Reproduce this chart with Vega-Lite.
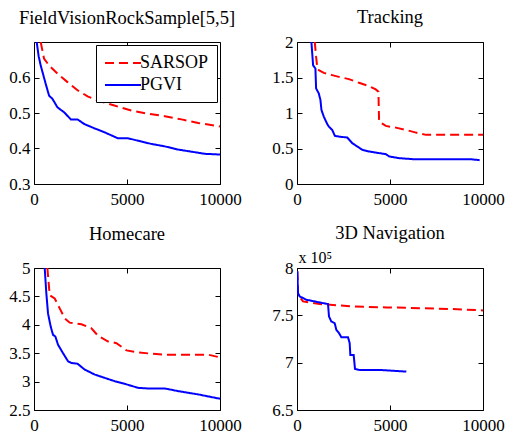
{
  "$schema": "https://vega.github.io/schema/vega-lite/v6.json",
  "padding": {"left": 8, "top": 7, "right": 5, "bottom": 3},
  "columns": 2,
  "spacing": {"row": 84, "column": 77},
  "bounds": "flush",
  "resolve": {"scale": {"color": "independent", "strokeDash": "independent"}},
  "concat": [
    {
      "title": {"text": "FieldVisionRockSample[5,5]", "offset": 12},
      "width": 186, "height": 142,
      "data": {"values": [
        {"m":"SARSOP","x":360,"y":0.70},{"m":"SARSOP","x":540,"y":0.653},{"m":"SARSOP","x":810,"y":0.634},{"m":"SARSOP","x":1260,"y":0.611},{"m":"SARSOP","x":1800,"y":0.587},{"m":"SARSOP","x":2340,"y":0.564},{"m":"SARSOP","x":2880,"y":0.547},{"m":"SARSOP","x":3420,"y":0.535},{"m":"SARSOP","x":4320,"y":0.521},{"m":"SARSOP","x":5225,"y":0.507},{"m":"SARSOP","x":6126,"y":0.498},{"m":"SARSOP","x":7030,"y":0.491},{"m":"SARSOP","x":7930,"y":0.482},{"m":"SARSOP","x":8830,"y":0.472},{"m":"SARSOP","x":10000,"y":0.462},
        {"m":"PGVI","x":144,"y":0.70},{"m":"PGVI","x":250,"y":0.66},{"m":"PGVI","x":360,"y":0.634},{"m":"PGVI","x":630,"y":0.582},{"m":"PGVI","x":810,"y":0.549},{"m":"PGVI","x":990,"y":0.540},{"m":"PGVI","x":1260,"y":0.516},{"m":"PGVI","x":1620,"y":0.502},{"m":"PGVI","x":1980,"y":0.482},{"m":"PGVI","x":2340,"y":0.482},{"m":"PGVI","x":2700,"y":0.469},{"m":"PGVI","x":3240,"y":0.457},{"m":"PGVI","x":3780,"y":0.446},{"m":"PGVI","x":4500,"y":0.429},{"m":"PGVI","x":5045,"y":0.429},{"m":"PGVI","x":5585,"y":0.422},{"m":"PGVI","x":6300,"y":0.413},{"m":"PGVI","x":7030,"y":0.406},{"m":"PGVI","x":7750,"y":0.397},{"m":"PGVI","x":8470,"y":0.391},{"m":"PGVI","x":9190,"y":0.385},{"m":"PGVI","x":10000,"y":0.383}
      ]},
      "layer": [
        {"mark": {"type": "line", "strokeWidth": 2, "clip": true},
         "encoding": {
           "x": {"field": "x", "type": "quantitative", "scale": {"domain": [0, 10000]}, "axis": {"values": [0, 5000, 10000], "format": "d"}},
           "y": {"field": "y", "type": "quantitative", "scale": {"domain": [0.3, 0.7]}, "axis": {"values": [0.3, 0.4, 0.5, 0.6], "format": "~g"}},
           "color": {"field": "m", "type": "nominal", "scale": {"domain": ["SARSOP", "PGVI"], "range": ["#ff0000", "#0000ff"]}, "legend": {"title": null}},
           "strokeDash": {"field": "m", "type": "nominal", "scale": {"domain": ["SARSOP", "PGVI"], "range": [[9, 5], [1, 0]]}, "legend": {"title": null}}
         }},
        {"mark": {"type": "point", "opacity": 0},
         "encoding": {
           "x": {"field": "x", "type": "quantitative", "scale": {"domain": [0, 10000]}, "axis": {"orient": "top", "values": [0, 5000, 10000], "labels": false}},
           "y": {"field": "y", "type": "quantitative", "scale": {"domain": [0.3, 0.7]}, "axis": {"orient": "right", "values": [0.3, 0.4, 0.5, 0.6], "labels": false}}
         }}
      ],
      "resolve": {"axis": {"x": "independent", "y": "independent"}}
    },
    {
      "title": {"text": "Tracking", "offset": 7},
      "width": 186, "height": 142,
      "data": {"values": [
        {"m":"SARSOP","x":955,"y":2.0},{"m":"SARSOP","x":1027,"y":1.79},{"m":"SARSOP","x":1100,"y":1.62},{"m":"SARSOP","x":1171,"y":1.603},{"m":"SARSOP","x":1441,"y":1.565},{"m":"SARSOP","x":1892,"y":1.533},{"m":"SARSOP","x":2252,"y":1.509},{"m":"SARSOP","x":2793,"y":1.477},{"m":"SARSOP","x":3333,"y":1.425},{"m":"SARSOP","x":3874,"y":1.379},{"m":"SARSOP","x":4234,"y":1.332},{"m":"SARSOP","x":4378,"y":1.30},{"m":"SARSOP","x":4414,"y":0.879},{"m":"SARSOP","x":4775,"y":0.818},{"m":"SARSOP","x":5315,"y":0.794},{"m":"SARSOP","x":5856,"y":0.762},{"m":"SARSOP","x":6396,"y":0.724},{"m":"SARSOP","x":6937,"y":0.692},{"m":"SARSOP","x":8378,"y":0.692},{"m":"SARSOP","x":10000,"y":0.692},
        {"m":"PGVI","x":775,"y":2.0},{"m":"PGVI","x":865,"y":1.673},{"m":"PGVI","x":990,"y":1.626},{"m":"PGVI","x":1027,"y":1.346},{"m":"PGVI","x":1171,"y":1.276},{"m":"PGVI","x":1261,"y":1.182},{"m":"PGVI","x":1315,"y":1.042},{"m":"PGVI","x":1441,"y":0.949},{"m":"PGVI","x":1622,"y":0.846},{"m":"PGVI","x":1712,"y":0.808},{"m":"PGVI","x":1892,"y":0.762},{"m":"PGVI","x":2036,"y":0.678},{"m":"PGVI","x":2252,"y":0.668},{"m":"PGVI","x":2703,"y":0.654},{"m":"PGVI","x":2973,"y":0.575},{"m":"PGVI","x":3243,"y":0.528},{"m":"PGVI","x":3514,"y":0.481},{"m":"PGVI","x":3874,"y":0.458},{"m":"PGVI","x":4414,"y":0.435},{"m":"PGVI","x":4775,"y":0.421},{"m":"PGVI","x":4955,"y":0.388},{"m":"PGVI","x":5495,"y":0.364},{"m":"PGVI","x":6216,"y":0.350},{"m":"PGVI","x":7477,"y":0.350},{"m":"PGVI","x":9279,"y":0.350},{"m":"PGVI","x":9820,"y":0.336}
      ]},
      "layer": [
        {"mark": {"type": "line", "strokeWidth": 2, "clip": true},
         "encoding": {
           "x": {"field": "x", "type": "quantitative", "scale": {"domain": [0, 10000]}, "axis": {"values": [0, 5000, 10000], "format": "d"}},
           "y": {"field": "y", "type": "quantitative", "scale": {"domain": [0, 2]}, "axis": {"values": [0, 0.5, 1, 1.5, 2], "format": "~g"}},
           "color": {"field": "m", "type": "nominal", "scale": {"domain": ["SARSOP", "PGVI"], "range": ["#ff0000", "#0000ff"]}, "legend": null},
           "strokeDash": {"field": "m", "type": "nominal", "scale": {"domain": ["SARSOP", "PGVI"], "range": [[9, 5], [1, 0]]}, "legend": null}
         }},
        {"mark": {"type": "point", "opacity": 0},
         "encoding": {
           "x": {"field": "x", "type": "quantitative", "scale": {"domain": [0, 10000]}, "axis": {"orient": "top", "values": [0, 5000, 10000], "labels": false}},
           "y": {"field": "y", "type": "quantitative", "scale": {"domain": [0, 2]}, "axis": {"orient": "right", "values": [0, 0.5, 1, 1.5, 2], "labels": false}}
         }}
      ],
      "resolve": {"axis": {"x": "independent", "y": "independent"}}
    },
    {
      "title": {"text": "Homecare", "offset": 16},
      "width": 186, "height": 142,
      "data": {"values": [
        {"m":"SARSOP","x":718,"y":5.0},{"m":"SARSOP","x":844,"y":4.522},{"m":"SARSOP","x":1113,"y":4.464},{"m":"SARSOP","x":1382,"y":4.289},{"m":"SARSOP","x":1652,"y":4.114},{"m":"SARSOP","x":1921,"y":4.038},{"m":"SARSOP","x":2549,"y":4.009},{"m":"SARSOP","x":3088,"y":3.939},{"m":"SARSOP","x":3447,"y":3.805},{"m":"SARSOP","x":3986,"y":3.706},{"m":"SARSOP","x":4435,"y":3.677},{"m":"SARSOP","x":4973,"y":3.549},{"m":"SARSOP","x":5601,"y":3.514},{"m":"SARSOP","x":6320,"y":3.491},{"m":"SARSOP","x":7038,"y":3.473},{"m":"SARSOP","x":7935,"y":3.473},{"m":"SARSOP","x":9372,"y":3.473},{"m":"SARSOP","x":10000,"y":3.427},
        {"m":"PGVI","x":575,"y":5.0},{"m":"PGVI","x":664,"y":4.551},{"m":"PGVI","x":754,"y":4.20},{"m":"PGVI","x":898,"y":3.968},{"m":"PGVI","x":1023,"y":3.823},{"m":"PGVI","x":1149,"y":3.794},{"m":"PGVI","x":1293,"y":3.648},{"m":"PGVI","x":1562,"y":3.50},{"m":"PGVI","x":1831,"y":3.357},{"m":"PGVI","x":2011,"y":3.328},{"m":"PGVI","x":2334,"y":3.316},{"m":"PGVI","x":2729,"y":3.211},{"m":"PGVI","x":3267,"y":3.124},{"m":"PGVI","x":3806,"y":3.065},{"m":"PGVI","x":4345,"y":3.007},{"m":"PGVI","x":4883,"y":2.96},{"m":"PGVI","x":5601,"y":2.89},{"m":"PGVI","x":6140,"y":2.879},{"m":"PGVI","x":7038,"y":2.879},{"m":"PGVI","x":7756,"y":2.832},{"m":"PGVI","x":8833,"y":2.774},{"m":"PGVI","x":10000,"y":2.698}
      ]},
      "layer": [
        {"mark": {"type": "line", "strokeWidth": 2, "clip": true},
         "encoding": {
           "x": {"field": "x", "type": "quantitative", "scale": {"domain": [0, 10000]}, "axis": {"values": [0, 5000, 10000], "format": "d"}},
           "y": {"field": "y", "type": "quantitative", "scale": {"domain": [2.5, 5]}, "axis": {"values": [2.5, 3, 3.5, 4, 4.5, 5], "format": "~g"}},
           "color": {"field": "m", "type": "nominal", "scale": {"domain": ["SARSOP", "PGVI"], "range": ["#ff0000", "#0000ff"]}, "legend": null},
           "strokeDash": {"field": "m", "type": "nominal", "scale": {"domain": ["SARSOP", "PGVI"], "range": [[9, 5], [1, 0]]}, "legend": null}
         }},
        {"mark": {"type": "point", "opacity": 0},
         "encoding": {
           "x": {"field": "x", "type": "quantitative", "scale": {"domain": [0, 10000]}, "axis": {"orient": "top", "values": [0, 5000, 10000], "labels": false}},
           "y": {"field": "y", "type": "quantitative", "scale": {"domain": [2.5, 5]}, "axis": {"orient": "right", "values": [2.5, 3, 3.5, 4, 4.5, 5], "labels": false}}
         }}
      ],
      "resolve": {"axis": {"x": "independent", "y": "independent"}}
    },
    {
      "title": {"text": "3D Navigation", "offset": 7},
      "width": 186, "height": 142,
      "data": {"values": [
        {"m":"SARSOP","x":18,"y":796500},{"m":"SARSOP","x":54,"y":771800},{"m":"SARSOP","x":323,"y":764700},{"m":"SARSOP","x":1219,"y":761900},{"m":"SARSOP","x":2294,"y":760500},{"m":"SARSOP","x":3011,"y":759400},{"m":"SARSOP","x":4803,"y":758400},{"m":"SARSOP","x":6595,"y":757600},{"m":"SARSOP","x":8387,"y":756600},{"m":"SARSOP","x":10000,"y":755200},
        {"m":"PGVI","x":18,"y":796500},{"m":"PGVI","x":54,"y":773500},{"m":"PGVI","x":143,"y":770000},{"m":"PGVI","x":502,"y":766500},{"m":"PGVI","x":1219,"y":763600},{"m":"PGVI","x":1667,"y":761900},{"m":"PGVI","x":1720,"y":748800},{"m":"PGVI","x":1846,"y":743500},{"m":"PGVI","x":2025,"y":741800},{"m":"PGVI","x":2115,"y":734700},{"m":"PGVI","x":2258,"y":731200},{"m":"PGVI","x":2384,"y":726900},{"m":"PGVI","x":2742,"y":726900},{"m":"PGVI","x":2832,"y":720600},{"m":"PGVI","x":2867,"y":708200},{"m":"PGVI","x":3047,"y":708200},{"m":"PGVI","x":3118,"y":693400},{"m":"PGVI","x":3369,"y":692300},{"m":"PGVI","x":4444,"y":692300},{"m":"PGVI","x":5878,"y":690600}
      ]},
      "layer": [
        {"mark": {"type": "line", "strokeWidth": 2, "clip": true},
         "encoding": {
           "x": {"field": "x", "type": "quantitative", "scale": {"domain": [0, 10000]}, "axis": {"values": [0, 5000, 10000], "format": "d"}},
           "y": {"field": "y", "type": "quantitative", "scale": {"domain": [650000, 800000]},
                 "axis": {"values": [650000, 700000, 750000, 800000], "labelExpr": "format(datum.value / 100000, '~g')",
                          "title": "x 10⁵", "titleAngle": 0, "titleAlign": "left", "titleBaseline": "alphabetic", "titleX": 1, "titleY": -6,
                          "titleFont": "Liberation Serif", "titleFontSize": 16, "titleFontWeight": "normal", "titleColor": "black"}},
           "color": {"field": "m", "type": "nominal", "scale": {"domain": ["SARSOP", "PGVI"], "range": ["#ff0000", "#0000ff"]}, "legend": null},
           "strokeDash": {"field": "m", "type": "nominal", "scale": {"domain": ["SARSOP", "PGVI"], "range": [[9, 5], [1, 0]]}, "legend": null}
         }},
        {"mark": {"type": "point", "opacity": 0},
         "encoding": {
           "x": {"field": "x", "type": "quantitative", "scale": {"domain": [0, 10000]}, "axis": {"orient": "top", "values": [0, 5000, 10000], "labels": false}},
           "y": {"field": "y", "type": "quantitative", "scale": {"domain": [650000, 800000]}, "axis": {"orient": "right", "values": [650000, 700000, 750000, 800000], "labels": false}}
         }}
      ],
      "resolve": {"axis": {"x": "independent", "y": "independent"}}
    }
  ],
  "config": {
    "font": "Liberation Serif",
    "background": "white",
    "view": {"stroke": "black", "strokeWidth": 1},
    "title": {"font": "Liberation Serif", "fontSize": 18.5, "fontWeight": "normal", "color": "black", "baseline": "alphabetic", "anchor": "middle", "frame": "group"},
    "axis": {"grid": false, "domain": false, "tickColor": "black", "tickSize": -5, "tickWidth": 1,
             "labelFont": "Liberation Serif", "labelFontSize": 17, "labelColor": "black",
             "labelFlush": false, "labelOverlap": false, "title": null},
    "axisX": {"labelPadding": 12},
    "axisY": {"labelPadding": 9},
    "legend": {"orient": "top-right", "offset": 3, "padding": 8, "fillColor": "white", "strokeColor": "black",
               "symbolType": "M-1,0H3", "symbolSize": 324, "symbolStrokeWidth": 2, "symbolOpacity": 1,
               "labelFont": "Liberation Serif", "labelFontSize": 18, "labelColor": "black", "labelOffset": 16,
               "rowPadding": 3, "cornerRadius": 0}
  }
}
